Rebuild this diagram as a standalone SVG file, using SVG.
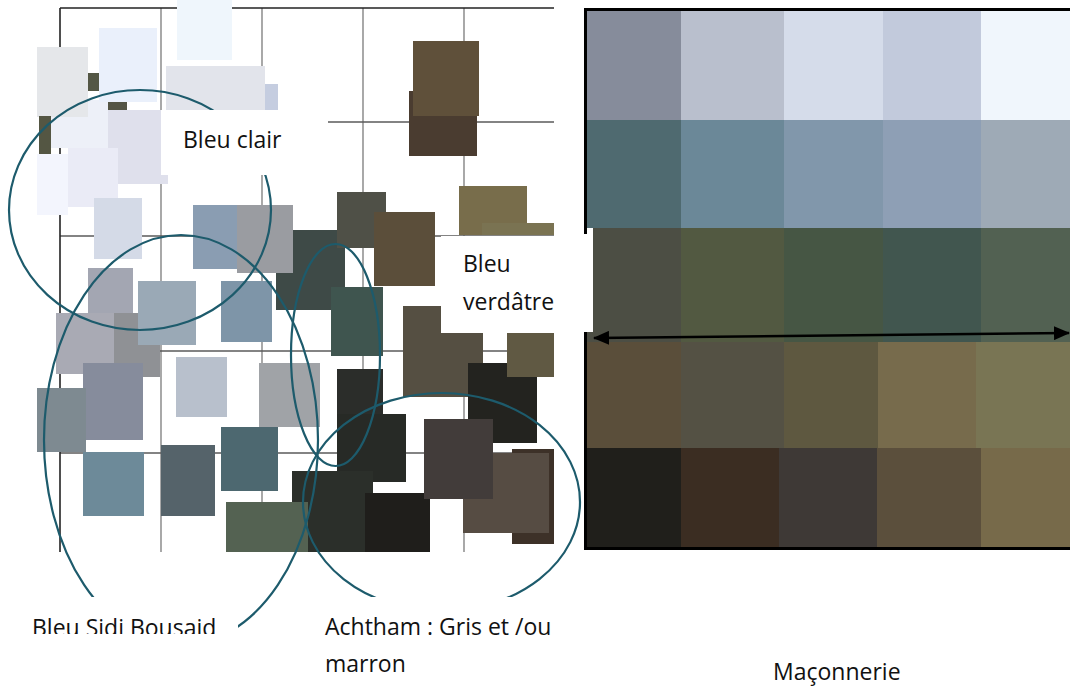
<svg xmlns="http://www.w3.org/2000/svg" width="1070" height="688" viewBox="0 0 1070 688">
<style>
.lbl{font-family:"Open Sans","Noto Sans","Liberation Sans",sans-serif;font-size:23px;fill:#111}
.ring{fill:none;stroke:#1d5b6c;stroke-width:2.2}
.gv{stroke:#7a7a7a;stroke-width:1.3}
.gh{stroke:#5a5a5a;stroke-width:1.3}
.gk{stroke:#222;stroke-width:1.6}
.mask{fill:#fff}
</style>
<defs>
<marker id="ah" viewBox="0 0 16 14" refX="15" refY="7" markerWidth="16" markerHeight="14" markerUnits="userSpaceOnUse" orient="auto-start-reverse">
<path d="M0,0 L16,7 L0,14 Z" fill="#000"/>
</marker>
<clipPath id="clipSidi"><rect x="0" y="600" width="300" height="34"/></clipPath>
</defs>
<rect width="1070" height="688" fill="#fff"/>

<g id="grid">
<line class="gv" x1="161" y1="8" x2="161" y2="552"/>
<line class="gv" x1="262" y1="8" x2="262" y2="552"/>
<line class="gv" x1="363" y1="8" x2="363" y2="552"/>
<line class="gv" x1="464" y1="8" x2="464" y2="552"/>
<line class="gh" x1="60" y1="122" x2="554" y2="122"/>
<line class="gh" x1="60" y1="236" x2="554" y2="236"/>
<line class="gh" x1="60" y1="351" x2="554" y2="351"/>
<line class="gh" x1="60" y1="453" x2="554" y2="453"/>
<line class="gk" x1="60" y1="8" x2="60" y2="552"/>
<line class="gk" x1="60" y1="8" x2="554" y2="8"/>
</g>

<g id="swatches">
<rect x="177" y="0" width="55" height="60" fill="#eff6fc"/>
<rect x="50" y="100" width="58" height="48" fill="#edf0f8"/>
<rect x="37" y="47" width="51" height="70" fill="#e5e7ea"/>
<rect x="99" y="28" width="58" height="74" fill="#eaf0fb"/>
<rect x="166" y="66" width="99" height="44" fill="#e2e4eb"/>
<rect x="265" y="84" width="13" height="26" fill="#c5cde0"/>
<rect x="88" y="73" width="11" height="18" fill="#545745"/>
<rect x="108" y="102" width="19" height="8" fill="#555545"/>
<rect x="39" y="116" width="12" height="38" fill="#545643"/>
<rect x="108" y="110" width="60" height="74" fill="#dfe0ec"/>
<rect x="37" y="154" width="31" height="61" fill="#f3f5fd"/>
<rect x="68" y="148" width="50" height="59" fill="#eaebf6"/>
<rect x="94" y="198" width="48" height="61" fill="#d4dae7"/>
<rect x="193" y="205" width="44" height="64" fill="#8a9db2"/>
<rect x="276" y="230" width="69" height="80" fill="#3e4a47"/>
<rect x="237" y="205" width="56" height="68" fill="#9a9ca1"/>
<rect x="337" y="192" width="49" height="56" fill="#4f5047"/>
<rect x="374" y="212" width="61" height="74" fill="#5b4e3a"/>
<rect x="409" y="91" width="68" height="65" fill="#4a3c30"/>
<rect x="413" y="41" width="66" height="75" fill="#5f503a"/>
<rect x="459" y="186" width="68" height="49" fill="#786d4b"/>
<rect x="482" y="223" width="72" height="12" fill="#7a7352"/>
<rect x="331" y="287" width="52" height="69" fill="#3f554f"/>
<rect x="88" y="268" width="45" height="62" fill="#a3a6b2"/>
<rect x="114" y="313" width="46" height="64" fill="#8f9195"/>
<rect x="56" y="313" width="58" height="61" fill="#a9aab4"/>
<rect x="138" y="281" width="58" height="64" fill="#9aa9b6"/>
<rect x="221" y="281" width="51" height="61" fill="#7e95a8"/>
<rect x="176" y="357" width="51" height="60" fill="#b8c0cc"/>
<rect x="259" y="363" width="61" height="64" fill="#a0a3a7"/>
<rect x="83" y="363" width="60" height="77" fill="#868c9c"/>
<rect x="37" y="388" width="49" height="64" fill="#7e8a91"/>
<rect x="403" y="306" width="80" height="91" fill="#554f42"/>
<rect x="468" y="363" width="69" height="80" fill="#23231f"/>
<rect x="507" y="333" width="47" height="44" fill="#605943"/>
<rect x="337" y="369" width="46" height="81" fill="#2b2d2a"/>
<rect x="337" y="414" width="69" height="68" fill="#272a26"/>
<rect x="221" y="427" width="57" height="64" fill="#4d6870"/>
<rect x="161" y="445" width="54" height="71" fill="#55636a"/>
<rect x="83" y="452" width="61" height="64" fill="#6d8a99"/>
<rect x="292" y="471" width="81" height="81" fill="#2b2f2a"/>
<rect x="226" y="502" width="82" height="50" fill="#546252"/>
<rect x="365" y="493" width="65" height="59" fill="#1f1e1b"/>
<rect x="512" y="449" width="42" height="95" fill="#3d3128"/>
<rect x="463" y="453" width="86" height="80" fill="#564c43"/>
<rect x="424" y="419" width="69" height="80" fill="#423c3a"/>
</g>

<g id="groups">
<ellipse id="ring-bleu-clair" class="ring" cx="140" cy="210" rx="131" ry="120"/>
<ellipse id="ring-sidi" class="ring" cx="181" cy="440" rx="137" ry="205"/>
<ellipse id="ring-verdatre" class="ring" cx="335.5" cy="355" rx="44.5" ry="111"/>
<ellipse id="ring-achtham" class="ring" cx="441.5" cy="502" rx="138.5" ry="109"/>
</g>

<g id="label-bleu-clair">
<rect class="mask" x="161" y="110" width="167" height="65"/>
<text class="lbl" x="183" y="148">Bleu clair</text>
</g>
<g id="label-bleu-verdatre">
<rect class="mask" x="441" y="236" width="115" height="97"/>
<text class="lbl" x="463" y="272">Bleu</text>
<text class="lbl" x="463" y="310">verdâtre</text>
</g>
<g id="label-sidi">
<rect class="mask" x="20" y="597" width="218" height="91"/>
<text class="lbl" x="32" y="636" clip-path="url(#clipSidi)">Bleu Sidi Bousaid</text>
</g>
<g id="label-achtham">
<rect class="mask" x="300" y="597" width="280" height="91"/>
<text class="lbl" x="325" y="635">Achtham : Gris et /ou</text>
<text class="lbl" x="325" y="672">marron</text>
</g>

<g id="maconnerie-palette">
<rect x="585" y="10" width="96" height="110" fill="#868c9b"/>
<rect x="681" y="10" width="103" height="110" fill="#b9bfcd"/>
<rect x="784" y="10" width="99" height="110" fill="#d5dcea"/>
<rect x="883" y="10" width="98" height="110" fill="#c2cadc"/>
<rect x="981" y="10" width="89" height="110" fill="#f0f6fc"/>
<rect x="585" y="120" width="96" height="108" fill="#4f6a70"/>
<rect x="681" y="120" width="103" height="108" fill="#6b8898"/>
<rect x="784" y="120" width="99" height="108" fill="#8197ab"/>
<rect x="883" y="120" width="98" height="108" fill="#8e9fb5"/>
<rect x="981" y="120" width="89" height="108" fill="#9eaab6"/>
<rect x="593" y="228" width="88" height="114" fill="#4c4e44"/>
<rect x="585" y="332" width="8" height="10" fill="#4c4e44"/>
<rect x="681" y="228" width="103" height="114" fill="#525941"/>
<rect x="784" y="228" width="99" height="114" fill="#465644"/>
<rect x="883" y="228" width="98" height="114" fill="#41564f"/>
<rect x="981" y="228" width="89" height="114" fill="#526152"/>
<rect x="585" y="342" width="96" height="106" fill="#5a4e3a"/>
<rect x="681" y="342" width="103" height="106" fill="#545144"/>
<rect x="784" y="342" width="94" height="106" fill="#5e5840"/>
<rect x="878" y="342" width="98" height="106" fill="#776b4c"/>
<rect x="976" y="342" width="94" height="106" fill="#797554"/>
<rect x="585" y="448" width="96" height="100" fill="#201f1b"/>
<rect x="681" y="448" width="98" height="100" fill="#3b2d22"/>
<rect x="779" y="448" width="98" height="100" fill="#3e3936"/>
<rect x="877" y="448" width="104" height="100" fill="#5b4f3c"/>
<rect x="981" y="448" width="89" height="100" fill="#776a4a"/>
<path d="M585.5,234 V9.5 H1070 M585.5,332 V548.5 H1070" fill="none" stroke="#000" stroke-width="3"/>
<text class="lbl" x="773" y="680">Maçonnerie</text>
</g>

<g id="connectors">
<line x1="594" y1="338" x2="1069" y2="333" stroke="#000" stroke-width="2.5" marker-start="url(#ah)" marker-end="url(#ah)"/>
</g>
</svg>
